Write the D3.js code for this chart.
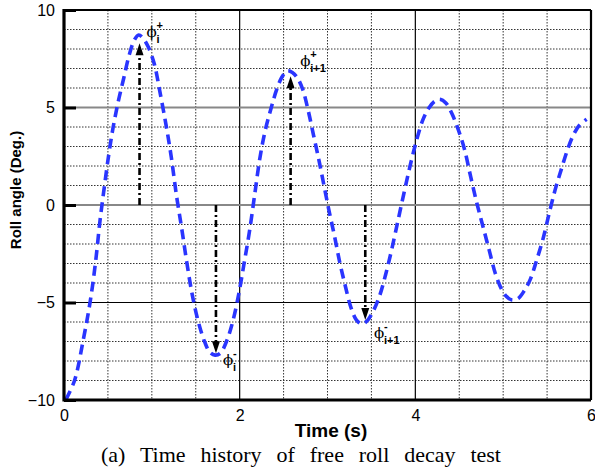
<!DOCTYPE html>
<html>
<head>
<meta charset="utf-8">
<script src="https://cdn.jsdelivr.net/npm/d3@7"></script>
<style>
  html, body { margin: 0; padding: 0; background: #fff; }
  svg { display: block; }
</style>
</head>
<body>
<svg id="chart" width="595" height="470"></svg>
<script>
// Free roll decay record: time (s) and roll angle (deg)
const timeS = [0.02, 0.12, 0.22, 0.30, 0.36, 0.41, 0.46, 0.51, 0.56, 0.62, 0.68, 0.74, 0.80, 0.85, 0.90,
  0.96, 1.03, 1.09, 1.16, 1.22, 1.28, 1.34, 1.40, 1.46, 1.53, 1.60, 1.66, 1.72, 1.78, 1.85, 1.92,
  1.99, 2.05, 2.11, 2.17, 2.23, 2.29, 2.36, 2.42, 2.48, 2.54, 2.60, 2.66, 2.72, 2.78, 2.84, 2.90,
  2.96, 3.02, 3.08, 3.14, 3.20, 3.27, 3.33, 3.39, 3.45, 3.52, 3.59, 3.66, 3.73, 3.80, 3.87, 3.94,
  4.01, 4.08, 4.15, 4.22, 4.28, 4.35, 4.42, 4.49, 4.56, 4.63, 4.70, 4.77, 4.84, 4.91, 4.98, 5.04,
  5.10, 5.17, 5.24, 5.31, 5.38, 5.45, 5.52, 5.59, 5.66, 5.73, 5.80, 5.87, 5.95];
const rollDeg = [-10.0, -9.0, -6.9, -4.9, -2.9, -0.8, 0.95, 2.6, 4.0, 5.35, 6.5, 7.65, 8.45, 8.72, 8.55,
  8.1, 7.2, 5.85, 4.15, 2.5, 0.5, -1.2, -3.0, -4.6, -6.0, -7.0, -7.55, -7.7, -7.6, -7.0, -6.0,
  -4.55, -3.0, -1.4, 0.5, 2.4, 3.8, 5.0, 5.9, 6.55, 6.88, 6.8, 6.5, 5.9, 4.85, 3.6, 2.35,
  1.0, -0.35, -1.6, -2.95, -4.1, -5.3, -5.9, -6.1, -5.95, -5.45, -4.7, -3.6, -2.3, -0.85, 0.6, 2.0,
  3.25, 4.3, 4.95, 5.32, 5.42, 5.22, 4.65, 3.85, 2.85, 1.45, 0.1, -1.1, -2.3, -3.5, -4.3, -4.7,
  -4.87, -4.8, -4.4, -3.8, -2.85, -1.8, -0.5, 0.75, 1.8, 2.8, 3.6, 4.1, 4.4];

// Axis ticks
const xTicks = [0, 2, 4, 6];
const yTicks = [-10, -5, 0, 5, 10];
const xMinorGrid = [0.5, 1, 1.5, 2.5, 3, 3.5, 4.5, 5, 5.5];
const yMinorGrid = [-9, -8, -7, -6, -4, -3, -2, -1, 1, 2, 3, 4, 6, 7, 8, 9];

// Peak / trough markers: arrow from zero line to the extreme, with its symbol
const arrowT = [0.86, 1.73, 2.58, 3.43];
const arrowTip = [8.3, -7.6, 6.6, -5.9];
const markSup = ["+", "-", "+", "-"];
const markSub = ["i", "i", "i+1", "i+1"];
const markT = [0.94, 1.81, 2.69, 3.53];
const markV = [8.6, -8.2, 7.15, -6.8];

const svg = d3.select("#chart");
const x = d3.scaleLinear().domain([0, 6]).range([64, 591]);
const y = d3.scaleLinear().domain([-10, 10]).range([400, 10]);

// Dotted minor grid
const g = svg.append("g");
g.selectAll("line.vx").data(xMinorGrid).join("line")
  .attr("x1", d => x(d)).attr("x2", d => x(d)).attr("y1", y(10)).attr("y2", y(-10))
  .attr("stroke", "#333").attr("stroke-width", 1).attr("stroke-dasharray", "1.5,1.5");
g.selectAll("line.hy").data(yMinorGrid).join("line")
  .attr("y1", d => y(d)).attr("y2", d => y(d)).attr("x1", x(0)).attr("x2", x(6))
  .attr("stroke", "#333").attr("stroke-width", 1).attr("stroke-dasharray", "1.5,1.5");

// Major grid lines
g.selectAll("line.vmaj").data([2, 4]).join("line")
  .attr("x1", d => x(d)).attr("x2", d => x(d)).attr("y1", y(10)).attr("y2", y(-10))
  .attr("stroke", "#000").attr("stroke-width", 1.2);
g.selectAll("line.hmaj").data([5, 0]).join("line")
  .attr("y1", d => y(d)).attr("y2", d => y(d)).attr("x1", x(0)).attr("x2", x(6))
  .attr("stroke", "#888").attr("stroke-width", 1.8);
g.append("line")
  .attr("y1", y(-5)).attr("y2", y(-5)).attr("x1", x(0)).attr("x2", x(6))
  .attr("stroke", "#000").attr("stroke-width", 1.2);

// Roll-angle trace
const pts = timeS.map((t, i) => [t, rollDeg[i]]);
svg.append("path")
  .datum(pts)
  .attr("fill", "none")
  .attr("stroke", "#2a35ff")
  .attr("stroke-width", 3.6)
  .attr("stroke-dasharray", "10,6")
  .attr("d", d3.line().x(d => x(d[0])).y(d => y(d[1])).curve(d3.curveCatmullRom.alpha(0.5)));

// Arrows
const arrows = svg.append("g");
arrowT.forEach((t, i) => {
  const x0 = x(t), yTip = y(arrowTip[i]), y0 = y(0);
  const dir = yTip < y0 ? 1 : -1;   // 1: pointing up
  const headLen = 12, headHalf = 4;
  arrows.append("line")
    .attr("x1", x0).attr("x2", x0)
    .attr("y1", y0).attr("y2", yTip + dir * headLen * 0.8)
    .attr("stroke", "#000").attr("stroke-width", 2.6)
    .attr("stroke-dasharray", "7,3,2,3");
  arrows.append("path")
    .attr("d", `M${x0},${yTip} L${x0 - headHalf},${yTip + dir * headLen} L${x0 + headHalf},${yTip + dir * headLen} Z`)
    .attr("fill", "#000");
});

// Symbols phi with sup/sub scripts
const marks = svg.append("g");
markT.forEach((t, i) => {
  const px = x(t), py = y(markV[i]);
  marks.append("text")
    .attr("x", px).attr("y", py)
    .attr("font-family", "'DejaVu Serif', 'Liberation Serif', serif")
    .attr("font-size", 15).attr("fill", "#000")
    .text("\u03D5");
  marks.append("text")
    .attr("x", px + 10).attr("y", py - 8)
    .attr("font-family", "'Liberation Sans', Arial, sans-serif")
    .attr("font-weight", "bold").attr("font-size", 11).attr("fill", "#000")
    .text(markSup[i]);
  marks.append("text")
    .attr("x", px + 10).attr("y", py + 6)
    .attr("font-family", "'Liberation Sans', Arial, sans-serif")
    .attr("font-weight", "bold").attr("font-size", 11).attr("fill", "#000")
    .text(markSub[i]);
});

// Frame
const frame = svg.append("g").attr("stroke", "#000").attr("fill", "none");
frame.append("line").attr("x1", x(0)).attr("x2", x(6)).attr("y1", y(10)).attr("y2", y(10)).attr("stroke-width", 2.2);
frame.append("line").attr("x1", x(6)).attr("x2", x(6)).attr("y1", y(10)).attr("y2", y(-10)).attr("stroke-width", 2.2);
frame.append("line").attr("x1", x(0)).attr("x2", x(6)).attr("y1", y(-10)).attr("y2", y(-10)).attr("stroke-width", 3);
frame.append("line").attr("x1", x(0)).attr("x2", x(0)).attr("y1", y(10) - 1).attr("y2", y(-10) + 1.5).attr("stroke-width", 3.2);

// Axes with inward major ticks
const yAxis = d3.axisLeft(y).tickValues(yTicks).tickSize(-12).tickPadding(20).tickFormat(d3.format("d"));
const gy = svg.append("g").attr("transform", `translate(${x(0)},0)`).call(yAxis);
gy.select(".domain").remove();
gy.selectAll(".tick line").attr("stroke", "#000").attr("stroke-width", 3);
gy.selectAll(".tick text")
  .attr("font-family", "'Liberation Sans', Arial, sans-serif").attr("font-size", 16).attr("fill", "#000")
  .attr("x", -9);

const xAxis = d3.axisBottom(x).tickValues(xTicks).tickSize(0).tickPadding(10).tickFormat(d3.format("d"));
const gx = svg.append("g").attr("transform", `translate(0,${y(-10)})`).call(xAxis);
gx.select(".domain").remove();
gx.selectAll(".tick text")
  .attr("font-family", "'Liberation Sans', Arial, sans-serif").attr("font-size", 16).attr("fill", "#000");

// Axis titles
svg.append("text")
  .attr("x", 331).attr("y", 437)
  .attr("text-anchor", "middle")
  .attr("font-family", "'Liberation Sans', Arial, sans-serif")
  .attr("font-weight", "bold").attr("font-size", 19).attr("fill", "#000")
  .text("Time (s)");
svg.append("text")
  .attr("transform", "translate(21,190) rotate(-90)")
  .attr("text-anchor", "middle")
  .attr("font-family", "'Liberation Sans', Arial, sans-serif")
  .attr("font-weight", "bold").attr("font-size", 15).attr("fill", "#000")
  .text("Roll angle (Deg.)");

// Caption, words spread across the figure width
const caption = svg.append("text")
  .attr("x", 101).attr("y", 462)
  .attr("font-family", "'Liberation Serif', 'Times New Roman', serif")
  .attr("font-size", 22).attr("fill", "#000")
  .text("(a) Time history of free roll decay test");
const natural = caption.node().getComputedTextLength();
const gaps = 7;
caption.attr("word-spacing", Math.max(0, (400 - natural) / gaps));
</script>
</body>
</html>
